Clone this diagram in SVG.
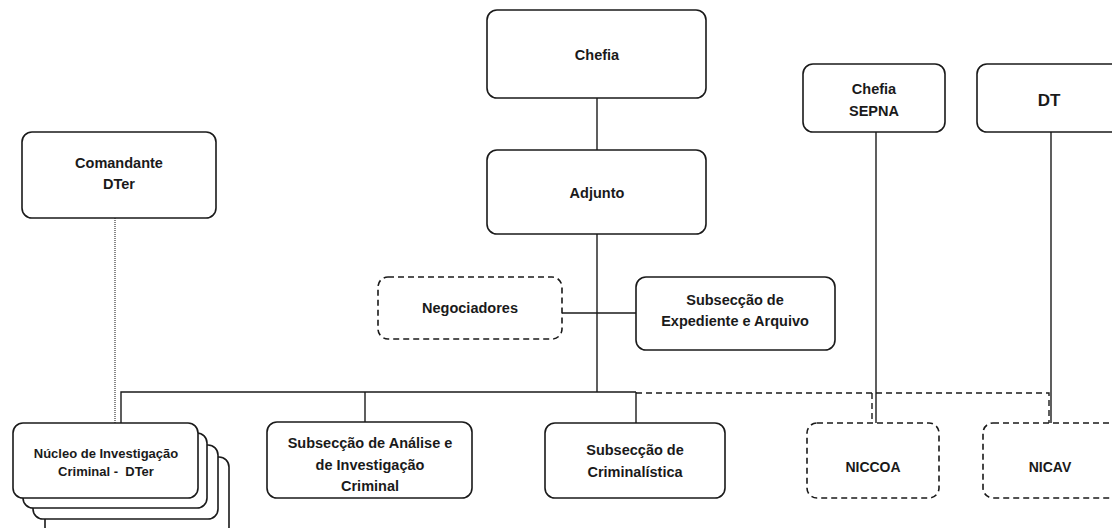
<svg xmlns="http://www.w3.org/2000/svg" width="1112" height="528" viewBox="0 0 1112 528">
<style>
.box{fill:#fff;stroke:#1a1a1a;stroke-width:1.6}
.dbox{fill:#fff;stroke:#1a1a1a;stroke-width:1.6;stroke-dasharray:6 4}
.ln{fill:none;stroke:#1a1a1a;stroke-width:1.4}
.dl{fill:none;stroke:#1a1a1a;stroke-width:1.4;stroke-dasharray:6 4}
.dot{fill:none;stroke:#555;stroke-width:1.4;stroke-dasharray:1 1}
text{font-family:"Liberation Sans",Arial,sans-serif;font-weight:bold;font-size:14.5px;fill:#1a1a1a;text-anchor:middle}
.sm{font-size:13px}
.md{font-size:14px}
</style>
<rect width="1112" height="528" fill="#fff"/>
<g id="connectors">
<line class="ln" x1="597" y1="98" x2="597" y2="150"/>
<line class="ln" x1="597" y1="234" x2="597" y2="392"/>
<line class="ln" x1="562" y1="313" x2="636" y2="313"/>
<polyline class="ln" points="121,423 121,392 636,392"/>
<line class="ln" x1="365" y1="392" x2="365" y2="422"/>
<line class="ln" x1="636" y1="392" x2="636" y2="423"/>
<polyline class="dl" points="636,393 1049,393 1049,423"/>
<line class="dl" x1="872" y1="393" x2="872" y2="423"/>
<line class="ln" x1="876" y1="132" x2="876" y2="423"/>
<line class="ln" x1="1051" y1="132" x2="1051" y2="423"/>
<line class="dot" x1="115" y1="218" x2="115" y2="423"/>
</g>
<g id="chefia">
<rect class="box" x="487" y="10" width="219" height="88" rx="10"/>
<text x="597" y="60">Chefia</text>
</g>
<g id="adjunto">
<rect class="box" x="487" y="150" width="219" height="84" rx="10"/>
<text x="597" y="198">Adjunto</text>
</g>
<g id="comandante">
<rect class="box" x="22" y="132" width="194" height="86" rx="10"/>
<text x="119" y="168">Comandante</text>
<text x="119" y="189">DTer</text>
</g>
<g id="chefia-sepna">
<rect class="box" x="803" y="64" width="142" height="68" rx="10"/>
<text x="874" y="94">Chefia</text>
<text x="874" y="116">SEPNA</text>
</g>
<g id="dt">
<rect class="box" x="977" y="64" width="150" height="68" rx="10"/>
<text x="1049" y="106" style="font-size:17px">DT</text>
</g>
<g id="negociadores">
<rect class="dbox" x="378" y="277" width="184" height="62" rx="10"/>
<text x="470" y="313">Negociadores</text>
</g>
<g id="expediente">
<rect class="box" x="636" y="277" width="199" height="73" rx="10"/>
<text x="735" y="305">Subsecção de</text>
<text x="735" y="326">Expediente e Arquivo</text>
</g>
<g id="nucleo">
<rect class="box" x="45" y="457" width="184" height="80" rx="10"/>
<rect class="box" x="33" y="445" width="185" height="74" rx="10"/>
<rect class="box" x="23" y="433" width="184" height="75" rx="10"/>
<rect class="box" x="13" y="423" width="185" height="75" rx="10"/>
<text class="sm" x="106" y="458">Núcleo de Investigação</text>
<text class="sm" x="106" y="476" xml:space="preserve">Criminal -  DTer</text>
</g>
<g id="analise">
<rect class="box" x="267" y="422" width="205" height="76" rx="10"/>
<text x="370" y="448">Subsecção de Análise e</text>
<text x="370" y="470">de Investigação</text>
<text x="370" y="491">Criminal</text>
</g>
<g id="criminalistica">
<rect class="box" x="545" y="423" width="180" height="75" rx="10"/>
<text x="635" y="455">Subsecção de</text>
<text x="635" y="477">Criminalística</text>
</g>
<g id="niccoa">
<rect class="dbox" x="807" y="423" width="132" height="75" rx="10"/>
<text class="md" x="873" y="472">NICCOA</text>
</g>
<g id="nicav">
<rect class="dbox" x="983" y="423" width="140" height="75" rx="10"/>
<text class="md" x="1050" y="472">NICAV</text>
</g>
</svg>
